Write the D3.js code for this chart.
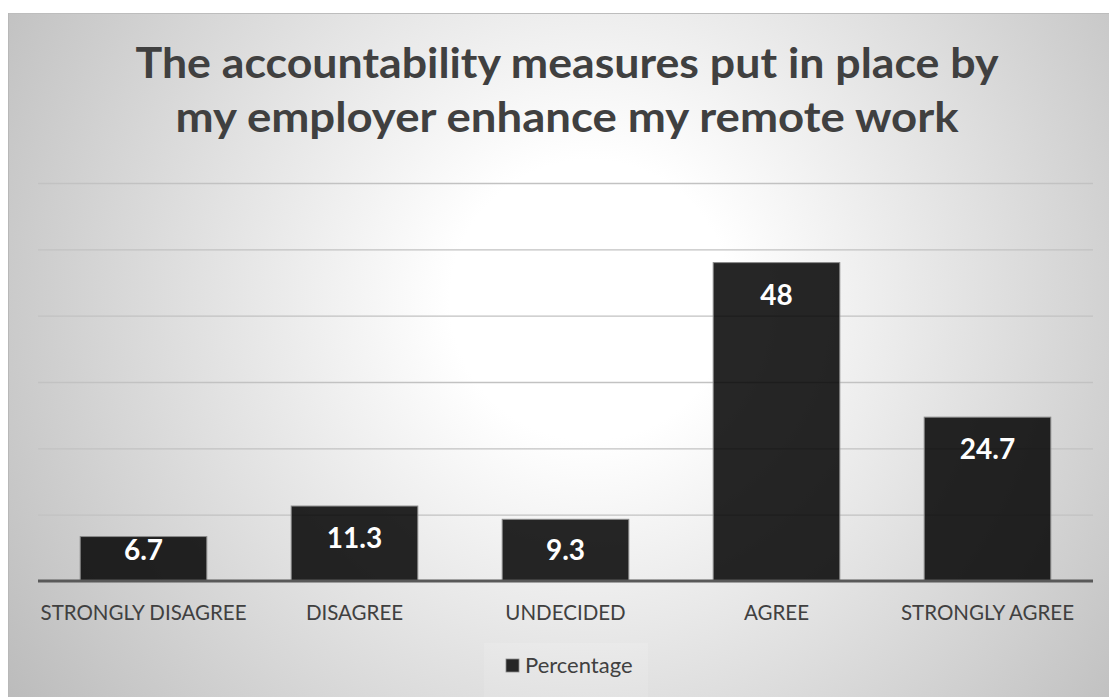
<!DOCTYPE html>
<html>
<head>
<meta charset="utf-8">
<script src="https://cdn.jsdelivr.net/npm/d3@7"></script>
<style>
  html, body { margin: 0; padding: 0; background: #ffffff; }
  svg { display: block; }
</style>
</head>
<body>
<script>
// Survey responses (percent of respondents)
const categories = ["STRONGLY DISAGREE", "DISAGREE", "UNDECIDED", "AGREE", "STRONGLY AGREE"];
const percentages = [6.7, 11.3, 9.3, 48, 24.7];
const valueLabels = ["6.7", "11.3", "9.3", "48", "24.7"];
const gridTicks = [0, 10, 20, 30, 40, 50, 60];
const titleLines = ["The accountability measures put in place by", "my employer enhance my remote work"];
const seriesName = "Percentage";

const W = 1109, H = 697;
const frame = { x: 8, y: 13, w: W - 8, h: H - 13 };
const plot = { left: 38, right: 1093, top: 183, bottom: 581 };

const svg = d3.select("body").append("svg")
  .attr("width", W).attr("height", H);

// Radial grey-to-white background fill
const defs = svg.append("defs");
const grad = defs.append("radialGradient")
  .attr("id", "bg")
  .attr("gradientUnits", "userSpaceOnUse")
  .attr("cx", 590).attr("cy", 300).attr("r", 700);
grad.append("stop").attr("offset", 0).attr("stop-color", "#ffffff");
grad.append("stop").attr("offset", 0.2).attr("stop-color", "#ffffff");
grad.append("stop").attr("offset", 1).attr("stop-color", "#bcbcbc");

svg.append("rect")
  .attr("x", frame.x).attr("y", frame.y)
  .attr("width", frame.w).attr("height", frame.h)
  .attr("fill", "url(#bg)");
svg.append("line")
  .attr("x1", frame.x).attr("x2", W).attr("y1", frame.y + 0.5).attr("y2", frame.y + 0.5)
  .attr("stroke", "#bdbdbd").attr("stroke-width", 1);
svg.append("line")
  .attr("x1", frame.x + 0.5).attr("x2", frame.x + 0.5).attr("y1", frame.y).attr("y2", H)
  .attr("stroke", "#b8b8b8").attr("stroke-width", 1);

// Title
const title = svg.append("g")
  .attr("font-family", "Lato, 'Open Sans', sans-serif")
  .attr("font-weight", 700)
  .attr("font-size", 42)
  .attr("fill", "#404040")
  .attr("text-anchor", "middle");
const titleWidths = [863, 783];
titleLines.forEach((t, i) => {
  title.append("text")
    .attr("x", 567)
    .attr("y", 78 + i * 54)
    .attr("textLength", titleWidths[i])
    .attr("lengthAdjust", "spacingAndGlyphs")
    .text(t);
});

// Scales
const x = d3.scaleBand()
  .domain(categories)
  .range([plot.left, plot.right])
  .paddingInner(0.4)
  .paddingOuter(0.2);

const y = d3.scaleLinear()
  .domain([0, 60])
  .range([plot.bottom, plot.top]);

// Horizontal gridlines
svg.append("g")
  .attr("class", "grid")
  .attr("transform", `translate(${plot.left},0)`)
  .call(d3.axisLeft(y).tickValues(gridTicks.filter(d => d > 0))
    .tickSize(-(plot.right - plot.left)).tickFormat(""))
  .call(g => g.select(".domain").remove())
  .call(g => g.selectAll(".tick line")
    .attr("stroke", "#c2c2c2").attr("stroke-width", 1.4));

// Bars
const data = categories.map((c, i) => ({ cat: c, v: percentages[i], label: valueLabels[i] }));
svg.append("g")
  .selectAll("rect")
  .data(data)
  .join("rect")
  .attr("x", d => x(d.cat))
  .attr("y", d => y(d.v))
  .attr("width", x.bandwidth())
  .attr("height", d => y(0) - y(d.v))
  .attr("fill", "#000000")
  .attr("fill-opacity", 0.85)
  .attr("stroke", "#8a8a8a")
  .attr("stroke-width", 1);

// Category axis
const xAxis = svg.append("g")
  .attr("transform", `translate(0,${plot.bottom})`)
  .call(d3.axisBottom(x).tickSize(0).tickPadding(0));
xAxis.select(".domain")
  .attr("stroke", "#595959").attr("stroke-width", 3)
  .attr("d", `M${plot.left},0H${plot.right}`);
xAxis.selectAll(".tick text")
  .attr("font-family", "Lato, 'Open Sans', sans-serif")
  .attr("font-size", 20.5)
  .attr("fill", "#404040")
  .attr("dy", 0)
  .attr("y", 39);

// Value labels inside the bar ends
svg.append("g")
  .selectAll("text")
  .data(data)
  .join("text")
  .attr("x", d => x(d.cat) + x.bandwidth() / 2)
  .attr("y", d => Math.min(y(d.v) + 42, y(0) - 21))
  .attr("text-anchor", "middle")
  .attr("font-family", "Lato, 'Open Sans', sans-serif")
  .attr("font-weight", 700)
  .attr("font-size", 28)
  .attr("fill", "#ffffff")
  .text(d => d.label);

// Legend
const legend = svg.append("g");
legend.append("rect")
  .attr("x", 484).attr("y", 643).attr("width", 164).attr("height", 54)
  .attr("fill", "#ffffff").attr("fill-opacity", 0.12);
legend.append("rect")
  .attr("x", 506).attr("y", 659).attr("width", 13).attr("height", 13)
  .attr("fill", "#262626").attr("stroke", "#8a8a8a").attr("stroke-width", 0.8);
legend.append("text")
  .attr("x", 525).attr("y", 673)
  .attr("font-family", "Lato, 'Open Sans', sans-serif")
  .attr("font-size", 22)
  .attr("fill", "#404040")
  .text(seriesName);
</script>
</body>
</html>
